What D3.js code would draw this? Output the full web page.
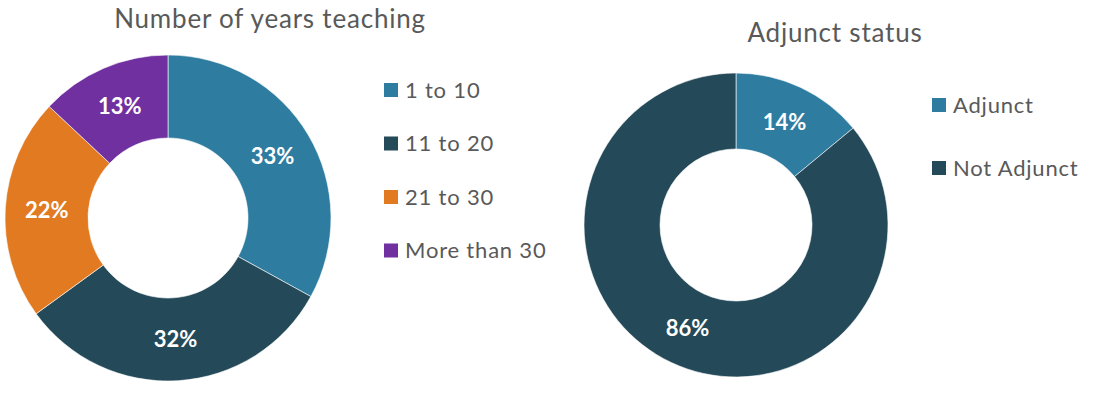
<!DOCTYPE html>
<html>
<head>
<meta charset="utf-8">
<script src="https://cdn.jsdelivr.net/npm/d3@7"></script>
<style>
    body { margin: 0; background: #fff; }
    svg { display: block; font-family: Lato, 'Open Sans', sans-serif; }
    .title { fill: #595959; font-size: 26px; letter-spacing: 0.8px; }
    .legend text { fill: #595959; font-size: 22px; letter-spacing: 0.8px; }
    .pct { fill: #fff; font-size: 22px; font-weight: bold; }
</style>
</head>
<body>
<svg width="1097" height="412"></svg>
<script>
'use strict';

// left chart: years teaching
var yearsCategories = ['1 to 10', '11 to 20', '21 to 30', 'More than 30'];
var yearsValues = [33, 32, 22, 13];
var yearsColors = ['#2e7ca0', '#244a59', '#e27a22', '#7030a0'];

// right chart: adjunct status
var adjunctCategories = ['Adjunct', 'Not Adjunct'];
var adjunctValues = [14, 86];
var adjunctColors = ['#2e7ca0', '#244a59'];

var svg = d3.select('svg');

function drawDonut (opts) {
    var pie = d3.pie().sort(null).value(function (d) { return d.value; });
    var arc = d3.arc().innerRadius(opts.inner).outerRadius(opts.outer);
    var data = opts.categories.map(function (c, i) {
        return { name: c, value: opts.values[i] };
    });
    var color = d3.scaleOrdinal().domain(opts.categories).range(opts.colors);

    var g = svg.append('g')
        .attr('transform', 'translate(' + opts.cx + ',' + opts.cy + ')');

    var slices = g.selectAll('g.slice')
        .data(pie(data))
        .enter()
        .append('g')
        .attr('class', 'slice');

    slices.append('path')
        .attr('d', arc)
        .attr('fill', function (d) { return color(d.data.name); })
        .attr('stroke', '#fff')
        .attr('stroke-width', 0.6);

    slices.append('text')
        .attr('class', 'pct')
        .attr('text-anchor', 'middle')
        .attr('dy', '0.35em')
        .attr('transform', function (d) {
            return 'translate(' + arc.centroid(d) + ')';
        })
        .text(function (d) { return d.data.value + '%'; });

    svg.append('text')
        .attr('class', 'title')
        .attr('x', opts.titleX)
        .attr('y', opts.titleY)
        .attr('text-anchor', 'middle')
        .text(opts.title);

    var legend = svg.append('g')
        .attr('class', 'legend')
        .attr('transform', 'translate(' + opts.legendX + ',' + opts.legendY + ')');

    var items = legend.selectAll('g')
        .data(opts.categories)
        .enter()
        .append('g')
        .attr('transform', function (d, i) {
            return 'translate(0,' + (i * opts.legendStep) + ')';
        });

    items.append('rect')
        .attr('x', 0)
        .attr('y', -7)
        .attr('width', 14)
        .attr('height', 14)
        .attr('fill', function (d) { return color(d); });

    items.append('text')
        .attr('x', 21)
        .attr('dy', '0.35em')
        .text(function (d) { return d; });
}

drawDonut({
    categories: yearsCategories,
    values: yearsValues,
    colors: yearsColors,
    cx: 168, cy: 218, outer: 163, inner: 80,
    title: 'Number of years teaching', titleX: 270, titleY: 28,
    legendX: 384, legendY: 90, legendStep: 53.5
});

drawDonut({
    categories: adjunctCategories,
    values: adjunctValues,
    colors: adjunctColors,
    cx: 736, cy: 225, outer: 152, inner: 76,
    title: 'Adjunct status', titleX: 835, titleY: 42,
    legendX: 932, legendY: 105, legendStep: 63
});
</script>
</body>
</html>
